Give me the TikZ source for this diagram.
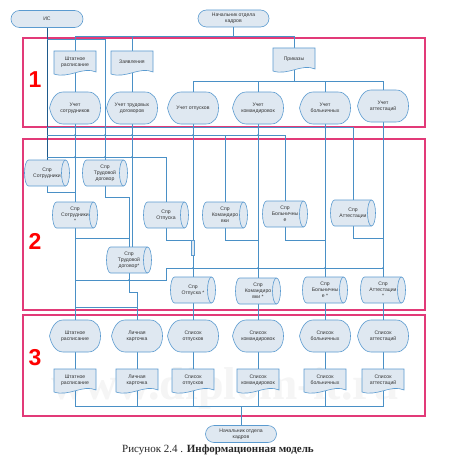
\documentclass[tikz,border=0pt]{standalone}
\usepackage{fontspec}
\setmainfont{Liberation Serif}
\setsansfont{Liberation Sans}
\usetikzlibrary{backgrounds}
\definecolor{shapeblue}{HTML}{5B9BD0}
\definecolor{shapefill}{HTML}{DFE8F1}
\definecolor{lineblue}{HTML}{4A90C6}
\definecolor{darkblue}{HTML}{1E5A8C}
\definecolor{framered}{HTML}{E23A78}
\definecolor{txtgray}{HTML}{333333}
\pgfdeclarelayer{bottomlayer}
\pgfdeclarelayer{wirelayer}
\pgfsetlayers{bottomlayer,wirelayer,main}
\tikzset{
  lbl/.style={font=\sffamily\fontsize{5.1}{5.8}\selectfont, align=center, text=txtgray, inner sep=0pt},
  shp/.style={draw=shapeblue, fill=shapefill, line width=0.6pt},
  shpline/.style={draw=shapeblue, line width=0.6pt},
  term/.style={lbl, shp, rounded corners=8.5pt, minimum height=17pt},
  wire/.style={draw=lineblue, line width=0.7pt},
  iswire/.style={draw=darkblue, line width=0.9pt},
  frame/.style={draw=framered, line width=1.1pt},
  num/.style={text=red, font=\sffamily\bfseries\fontsize{23}{23}\selectfont, inner sep=0pt},
  jdot/.style={fill=lineblue},
  wmark/.style={text=black!4, font=\rmfamily\bfseries\fontsize{46}{46}\selectfont},
  capt/.style={font=\rmfamily\fontsize{11}{13}\selectfont, text=black!85}
}
\newcommand\DispShape[4]{%
\begin{scope}[shift={(#2,#3)}]
\path[shp] (-25.5,0) .. controls (-24,-7) and (-20,-16) .. (-12,-16) -- (13,-16) .. controls (21,-16) and (25.5,-9) .. (25.5,0) .. controls (25.5,9) and (21,16) .. (13,16) -- (-12,16) .. controls (-20,16) and (-24,7) .. (-25.5,0) -- cycle;
\node[lbl,minimum width=51pt,minimum height=32pt] (#1) at (0,0) {#4};
\end{scope}}
\newcommand\DocShape[4]{%
\begin{scope}[shift={(#2,#3)}]
\path[shp] (-21,-12) -- (21,-12) -- (21,9) .. controls (8,3) and (-6,16) .. (-21,11) -- cycle;
\node[lbl,minimum width=42pt,minimum height=22pt] (#1) at (0,-1) {#4};
\end{scope}}
\newcommand\CylShape[4]{%
\begin{scope}[shift={(#2,#3)}]
\path[shp] (-18.5,-13) -- (18.5,-13) arc[start angle=-90,end angle=90,x radius=4,y radius=13] -- (-18.5,13) arc[start angle=90,end angle=270,x radius=4,y radius=13] -- cycle;
\draw[shpline] (18.5,-13) arc[start angle=-90,end angle=-270,x radius=4,y radius=13];
\node[lbl,minimum width=45pt,minimum height=26pt] (#1) at (0,0) {#4};
\end{scope}}
\begin{document}
\begin{tikzpicture}[x=1pt,y=-1pt]
\useasboundingbox (0,0) rectangle (456,460);
\begin{pgfonlayer}{bottomlayer}
\fill[white] (0,0) rectangle (456,460);
\node[wmark] (wm) at (225,388) {www.diplom-it.ru};
\draw[frame] (23,38) rectangle (425,127);
\draw[frame] (23,139) rectangle (425,310);
\draw[frame] (23,315) rectangle (425,416);
\end{pgfonlayer}

% labels of zones
\node[num] (n1) at (35,80) {1};
\node[num] (n2) at (35,241) {2};
\node[num] (n3) at (35,358) {3};

% terminators
\node[term, minimum width=72pt] (is) at (47,19) {ИС};
\node[term, minimum width=71pt] (na1) at (233.5,18.5) {Начальник отдела\\кадров};
\node[term, minimum width=71pt] (na2) at (241,434) {Начальник отдела\\кадров};

% zone 1
\DocShape{d1}{75}{63}{Штатное\\расписание}
\DocShape{d2}{132}{63}{Заявления}
\DocShape{d3}{294}{60}{Приказы}
\DispShape{u1}{75}{108}{Учет\\сотрудников}
\DispShape{u2}{132}{108}{Учет трудовых\\договоров}
\DispShape{u3}{193}{108}{Учет отпусков}
\DispShape{u4}{258}{108}{Учет\\командировок}
\DispShape{u5}{325}{108}{Учет\\больничных}
\DispShape{u6}{383}{106}{Учет\\аттестаций}

% zone 2
\CylShape{c1}{47}{173}{Спр\\Сотрудники}
\CylShape{c2}{105}{173}{Спр\\Трудовой\\договор}
\CylShape{c3}{75}{215}{Спр\\Сотрудники\\*}
\CylShape{c4}{166}{215}{Спр\\Отпуска}
\CylShape{c5}{225}{215}{Спр\\Командиро\\вки}
\CylShape{c6}{285}{214}{Спр\\Больничны\\е}
\CylShape{c7}{353}{213}{Спр\\Аттестации}
\CylShape{c8}{129}{260}{Спр\\Трудовой\\договор*}
\CylShape{c9}{193}{290}{Спр\\Отпуска *}
\CylShape{c10}{258}{291}{Спр\\Командиро\\вки *}
\CylShape{c11}{325}{290}{Спр\\Больничны\\е *}
\CylShape{c12}{383}{290}{Спр\\Аттестации\\*}
\draw[shp] (191.5,240) rectangle (194.5,255);

% zone 3
\DispShape{s1}{75}{336}{Штатное\\расписание}
\DispShape{s2}{137}{336}{Личная\\карточка}
\DispShape{s3}{193}{336}{Список\\отпусков}
\DispShape{s4}{258}{336}{Список\\командировок}
\DispShape{s5}{325}{336}{Список\\больничных}
\DispShape{s6}{383}{336}{Список\\аттестаций}
\DocShape{e1}{75}{381}{Штатное\\расписание}
\DocShape{e2}{137}{381}{Личная\\карточка}
\DocShape{e3}{193}{381}{Список\\отпусков}
\DocShape{e4}{258}{381}{Список\\командировок}
\DocShape{e5}{325}{381}{Список\\больничных}
\DocShape{e6}{383}{381}{Список\\аттестаций}

% caption
\node[capt] (cap) at (218,450) {Рисунок 2.4 . \textbf{Информационная модель}};

\begin{pgfonlayer}{wirelayer}
% head of department -> zone 1
\coordinate (nb) at (233.5,36);
\draw[wire] (na1.south) -- (nb);
\draw[wire] (d1.north) -- (d1.north |- nb) -- (d3.north |- nb) -- (d3.north);
\draw[wire] (d2.north) -- (d2.north |- nb);
\draw[wire] (d1.south) -- (u1.north);
\draw[wire] (d2.south) -- (u2.north);
\coordinate (pb) at (294,81);
\draw[wire] (d3.south) -- (pb);
\draw[wire] (u3.north) -- (u3.north |- pb) -- (u6.north |- pb) -- (u6.north);
\draw[wire] (u4.north) -- (u4.north |- pb);
\draw[wire] (u5.north) -- (u5.north |- pb);
% IS distribution
\draw[iswire] (is.south) -- (c1.north);
\coordinate (i39) at (47,39);
\coordinate (i127) at (47,127.5);
\coordinate (i135) at (47,135);
\coordinate (i157) at (47,157);
\draw[wire] (i39) -| (c2.north);
\draw[wire] (i127) -| (c7.north);
\draw[wire] (i135) -| (c6.north);
\draw[wire] (c5.north |- i135) -- (c5.north);
\draw[wire] (i157) -| (c4.north);
% zone 1 -> zone 2
\draw[wire] (u1.south) -- (c3.north);
\draw[wire] (c1.south) |- (u1.south |- 0,192);
\draw[wire] (u2.south) -- (u2.south |- c8.north);
\draw[wire] (c2.south) |- (c8.north |- 0,197) -- (c8.north);
\draw[wire] (u3.south) -- (c9.north);
\draw[wire] (u4.south) -- (c10.north);
\draw[wire] (u5.south) -- (c11.north);
\draw[wire] (u6.south) -- (c12.north);
\draw[wire] (c4.south) |- (u3.south |- 0,240);
\draw[wire] (c5.south) |- (u4.south |- 0,240);
\draw[wire] (c6.south) |- (u5.south |- 0,240);
\draw[wire] (c7.south) |- (u6.south |- 0,238);
% zone 2 internal buses
\draw[wire] (c3.south) -- (s1.north);
\draw[wire] (c3.south |- 0,238) -- (c8.north |- 0,238);
\draw[wire] (c3.south |- 0,307) -- (s2.north |- 0,307);
\draw[wire] (c8.south) -- (c8.south |- 0,292) -| (s2.north);
\draw[wire] (c3.south |- 0,280) -- (c4.south |- 0,280) -- (c4.south |- 0,268) -- (u6.south |- 0,268);
% zone 2 -> zone 3
\draw[wire] (c9.south) -- (s3.north);
\draw[wire] (c10.south) -- (s4.north);
\draw[wire] (c11.south) -- (s5.north);
\draw[wire] (c12.south) -- (s6.north);
\foreach \k in {1,...,6} {\draw[wire] (s\k.south) -- (e\k.north);}
\coordinate (ob) at (241,406);
\draw[wire] (e1.south) -- (e1.south |- ob) -- (e6.south |- ob) -- (e6.south);
\foreach \k in {2,3,4,5} {\draw[wire] (e\k.south) -- (e\k.south |- ob);}
\draw[wire] (ob) -- (na2.north);
% junction marks
\foreach \xx in {75,105,132,193,258,325} {\fill[jdot] (\xx,127.5) circle[radius=0.9];}
\foreach \xx in {75,105,132,193,258} {\fill[jdot] (\xx,135) circle[radius=0.9];}
\foreach \xx in {75,105,132} {\fill[jdot] (\xx,157) circle[radius=0.9];}
\foreach \xx in {193,258,325,383} {\fill[jdot] (\xx,268) circle[radius=0.9];}
\fill[jdot] (129,280) circle[radius=0.9];
\end{pgfonlayer}
\end{tikzpicture}
\end{document}
